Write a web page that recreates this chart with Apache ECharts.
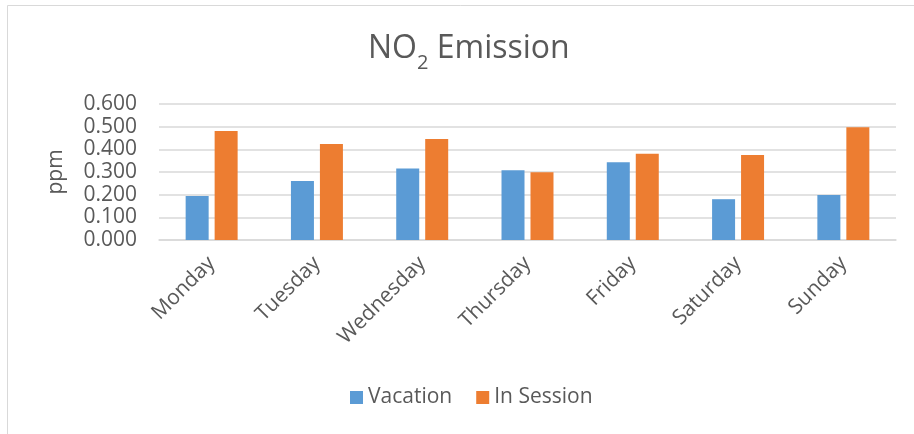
<!DOCTYPE html>
<html>
<head>
<meta charset="utf-8">
<script src="https://cdn.jsdelivr.net/npm/echarts@6/dist/echarts.min.js"></script>
<style>
  html, body { margin: 0; padding: 0; background: #fff; }
  #chart { width: 914px; height: 434px; }
</style>
</head>
<body>
<div id="chart"></div>
<script>
// NO2 readings per weekday, in ppm
const days = ['Monday', 'Tuesday', 'Wednesday', 'Thursday', 'Friday', 'Saturday', 'Sunday'];
const vacation = [0.194, 0.260, 0.315, 0.308, 0.343, 0.180, 0.199];
const inSession = [0.481, 0.423, 0.446, 0.299, 0.381, 0.375, 0.497];
const seriesNames = ['Vacation', 'In Session'];
const yTicks = { min: 0, max: 0.6, step: 0.1 };

const FONT = 'Open Sans';
const TEXT = '#595959';

const chart = echarts.init(document.getElementById('chart'), null, { renderer: 'canvas' });
chart.setOption({
  backgroundColor: '#fff',
  animation: false,
  textStyle: { fontFamily: FONT, color: TEXT },
  title: {
    text: '{a|NO}{s|2}{a| Emission}',
    left: 363,
    top: 24,
    textStyle: {
      fontWeight: 'normal',
      rich: {
        a: { fontFamily: FONT, fontSize: 32, fontWeight: 'normal', color: TEXT, lineHeight: 40 },
        s: { fontFamily: FONT, fontSize: 20, fontWeight: 'normal', color: TEXT, lineHeight: 40, verticalAlign: 'bottom', padding: [0, 0, -4, 0] }
      }
    }
  },
  graphic: [
    { type: 'line', shape: { x1: 7.5, y1: 5.5, x2: 914, y2: 5.5 }, style: { stroke: '#d9d9d9', lineWidth: 1 } },
    { type: 'line', shape: { x1: 7.5, y1: 5.5, x2: 7.5, y2: 434 }, style: { stroke: '#d9d9d9', lineWidth: 1 } }
  ],
  legend: {
    data: seriesNames,
    top: 382,
    left: 345,
    icon: 'rect',
    itemWidth: 13,
    itemHeight: 13,
    itemGap: 24,
    textStyle: { fontFamily: FONT, fontSize: 21, color: TEXT }
  },
  grid: { left: 159, right: 18, top: 104, bottom: 194, containLabel: false },
  xAxis: {
    type: 'category',
    data: days,
    axisLine: { lineStyle: { color: '#d9d9d9', width: 1.5 } },
    axisTick: { show: false },
    axisLabel: { rotate: 45, margin: 20, fontFamily: FONT, fontSize: 21, color: TEXT }
  },
  yAxis: {
    type: 'value',
    min: yTicks.min,
    max: yTicks.max,
    interval: yTicks.step,
    name: 'ppm',
    nameLocation: 'middle',
    nameGap: 92,
    nameTextStyle: { fontFamily: FONT, fontSize: 21, color: TEXT },
    axisLine: { show: false },
    axisTick: { show: false },
    axisLabel: { margin: 22, fontFamily: FONT, fontSize: 21, color: TEXT, formatter: v => v.toFixed(3) },
    splitLine: { lineStyle: { color: '#d9d9d9', width: 1.5 } }
  },
  series: [
    { name: seriesNames[0], type: 'bar', data: vacation, barWidth: 23, barGap: '26%', itemStyle: { color: '#5B9BD5' } },
    { name: seriesNames[1], type: 'bar', data: inSession, barWidth: 23, barGap: '26%', itemStyle: { color: '#ED7D31' } }
  ]
});
</script>
</body>
</html>
